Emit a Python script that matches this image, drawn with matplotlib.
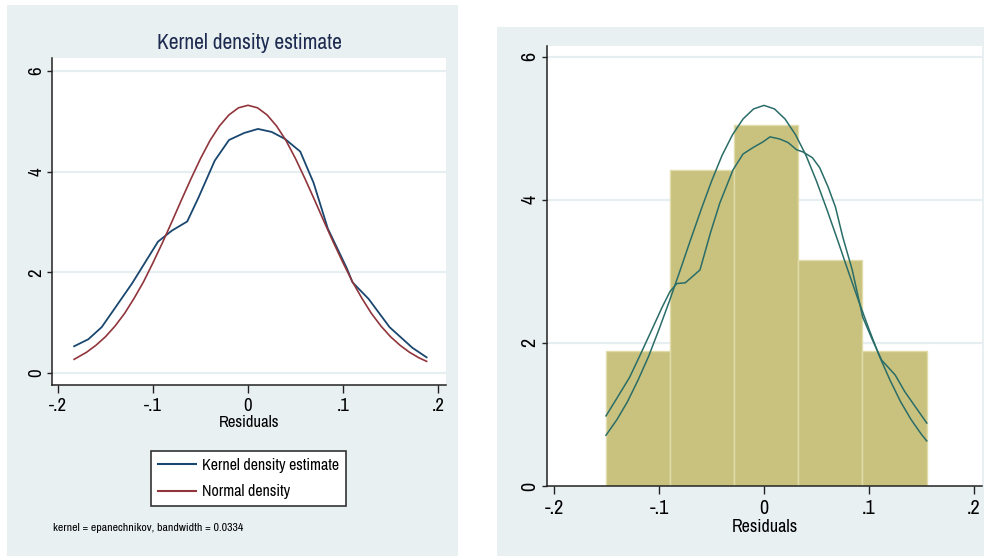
import matplotlib
matplotlib.use("Agg")
import matplotlib.pyplot as plt
from matplotlib.patches import Rectangle
from matplotlib.lines import Line2D
import numpy as np

# narrow face like Stata's default; Liberation Sans if it is missing
plt.rcParams['font.family'] = ['Archivo Narrow', 'Liberation Sans', 'DejaVu Sans']

# Colours
PANEL_BG = '#e9f0f2'
GRID = '#e6eef1'
NAVY = '#1a476f'
MAROON = '#90353b'
TEAL = '#2a6d68'
KHAKI = '#c9c27f'
KHAKI_EDGE = '#e2dcaa'
AXIS = '#222222'

# Left panel: kernel density estimate
kde_x = [-0.183, -0.168, -0.154, -0.140, -0.122, -0.0947, -0.080, -0.064,
         -0.052, -0.035, -0.020, -0.004, 0.0105, 0.025, 0.039, 0.055,
         0.069, 0.084, 0.104, 0.110, 0.127, 0.149, 0.173, 0.188]
kde_y = [0.53, 0.67, 0.91, 1.29, 1.78, 2.61, 2.83, 3.01,
         3.49, 4.22, 4.63, 4.77, 4.85, 4.79, 4.65, 4.40,
         3.78, 2.87, 2.08, 1.80, 1.47, 0.91, 0.50, 0.31]

# Left panel: normal density
norm_x = [-0.183, -0.17, -0.16, -0.15, -0.14, -0.13, -0.12, -0.11, -0.10,
          -0.09, -0.08, -0.07, -0.06, -0.05, -0.04, -0.03, -0.02, -0.01,
          0.0, 0.01, 0.02, 0.03, 0.04, 0.05, 0.06, 0.07, 0.08, 0.09,
          0.10, 0.11, 0.12, 0.13, 0.14, 0.15, 0.16, 0.17, 0.18, 0.188]
norm_y = [0.27, 0.41, 0.55, 0.72, 0.93, 1.18, 1.48, 1.81, 2.19,
          2.59, 3.01, 3.44, 3.86, 4.26, 4.62, 4.91, 5.13, 5.27,
          5.32, 5.27, 5.13, 4.91, 4.62, 4.26, 3.86, 3.44, 3.01, 2.59,
          2.19, 1.81, 1.48, 1.18, 0.93, 0.72, 0.55, 0.41, 0.30, 0.23]

# Right panel: histogram
bin_edges = [-0.1505, -0.0895, -0.0286, 0.0324, 0.0933, 0.1552]
bin_heights = [1.89, 4.41, 5.05, 3.16, 1.89]

# Right panel: kernel density
kde2_x = [-0.1505, -0.140, -0.128, -0.118, -0.107, -0.097, -0.0895, -0.083,
          -0.075, -0.061, -0.051, -0.042, -0.0295, -0.020, -0.0105, -0.001,
          0.0057, 0.015, 0.023, 0.031, 0.037, 0.046, 0.053, 0.061, 0.068,
          0.075, 0.084, 0.094, 0.103, 0.112, 0.125, 0.134, 0.144, 0.155]
kde2_y = [0.98, 1.23, 1.52, 1.83, 2.18, 2.50, 2.72, 2.83,
          2.84, 3.02, 3.54, 3.96, 4.42, 4.64, 4.73, 4.81,
          4.88, 4.85, 4.80, 4.70, 4.67, 4.59, 4.45, 4.18, 3.90,
          3.48, 3.02, 2.36, 2.05, 1.76, 1.55, 1.32, 1.11, 0.88]

# Right panel: normal density
norm2_x = [-0.1505, -0.14, -0.13, -0.12, -0.11, -0.10, -0.09, -0.08, -0.07,
           -0.06, -0.05, -0.04, -0.03, -0.02, -0.01, 0.0, 0.01, 0.02, 0.03,
           0.04, 0.05, 0.06, 0.07, 0.08, 0.09, 0.10, 0.11, 0.12, 0.13,
           0.14, 0.15, 0.155]
norm2_y = [0.71, 0.93, 1.18, 1.48, 1.81, 2.19, 2.59, 3.01, 3.44,
           3.86, 4.26, 4.62, 4.91, 5.13, 5.27, 5.32, 5.27, 5.13, 4.91,
           4.62, 4.26, 3.86, 3.44, 3.01, 2.59, 2.19, 1.81, 1.48, 1.18,
           0.93, 0.72, 0.63]

x_ticks = [-0.2, -0.1, 0.0, 0.1, 0.2]
x_ticklabels = ['-.2', '-.1', '0', '.1', '.2']
y_ticks = [0, 2, 4, 6]
y_ticklabels = ['0', '2', '4', '6']

W, H = 984, 556
fig = plt.figure(figsize=(W / 100, H / 100), dpi=100)
fig.patch.set_facecolor('white')


def px_rect(x0, y0, x1, y1):
    # pixel box (top-left origin) -> figure fraction [left, bottom, width, height]
    return [x0 / W, 1 - y1 / H, (x1 - x0) / W, (y1 - y0) / H]


# panel backgrounds
for x0, y0, x1, y1 in [(7, 5, 458, 556), (497, 27, 984, 556)]:
    l, b, w, h = px_rect(x0, y0, x1, y1)
    fig.patches.append(Rectangle((l, b), w, h, transform=fig.transFigure,
                                 facecolor=PANEL_BG, edgecolor='none', zorder=-5))


def style_axes(ax, fs, xpad):
    ax.set_zorder(2)
    for s in ['top', 'right']:
        ax.spines[s].set_visible(False)
    for s in ['left', 'bottom']:
        ax.spines[s].set_color(AXIS)
        ax.spines[s].set_linewidth(1.1)
    ax.set_xticks(x_ticks)
    ax.set_xticklabels(x_ticklabels)
    ax.set_yticks(y_ticks)
    ax.set_yticklabels(y_ticklabels, rotation=90, va='center')
    ax.tick_params(axis='both', direction='out', width=1.0,
                   color=AXIS, labelsize=fs, labelcolor='black')
    ax.tick_params(axis='x', length=5.4, pad=xpad)
    ax.tick_params(axis='y', length=3.6, pad=2)
    ax.set_facecolor('white')


# ---- left: kernel density estimate ----
ax1 = fig.add_axes(px_rect(52, 58, 446, 385))
ax1.set_xlim(-0.2063, 0.2084)
ax1.set_ylim(-0.24, 6.26)
for yv in y_ticks:
    ax1.axhline(yv, color=GRID, lw=1.6, zorder=1)
ax1.plot(kde_x, kde_y, color=NAVY, lw=1.3, zorder=3)
ax1.plot(norm_x, norm_y, color=MAROON, lw=1.2, zorder=3)
style_axes(ax1, 13.5, 4)
ax1.set_xlabel('Residuals', fontsize=12, labelpad=0.5)
ax1.set_title('Kernel density estimate', fontsize=15.5, color='#1e2b50', pad=6.5)

handles = [Line2D([], [], color=NAVY, lw=1.5), Line2D([], [], color=MAROON, lw=1.5)]
leg = fig.legend(handles, ['Kernel density estimate', 'Normal density'],
                 loc='center', bbox_to_anchor=(248.5 / W, 1 - 478.5 / H),
                 bbox_transform=fig.transFigure, fontsize=11.5, frameon=True,
                 fancybox=False, edgecolor='#333333', framealpha=1,
                 handlelength=2.4, handletextpad=0.4, labelspacing=0.75,
                 borderpad=0.42, borderaxespad=0)
leg.get_frame().set_linewidth(1.2)

fig.text(53 / W, 1 - 528 / H, 'kernel = epanechnikov, bandwidth = 0.0334',
         fontsize=8.5, va='center', ha='left')

# ---- right: histogram with densities ----
ax2 = fig.add_axes(px_rect(547, 46, 982, 486))
ax2.set_xlim(-0.2067, 0.2076)
ax2.set_ylim(0, 6.15)
for yv in y_ticks[1:]:
    ax2.axhline(yv, color=GRID, lw=1.6, zorder=1)
ax2.bar(bin_edges[:-1], bin_heights, width=np.diff(bin_edges), align='edge',
        color=KHAKI, edgecolor=KHAKI_EDGE, linewidth=1.0, zorder=2)
ax2.plot(kde2_x, kde2_y, color=TEAL, lw=1.1, zorder=3)
ax2.plot(norm2_x, norm2_y, color=TEAL, lw=1.1, zorder=3)
style_axes(ax2, 14.5, 4)
ax2.set_xlabel('Residuals', fontsize=13, labelpad=1)

fig.savefig('out.png', dpi=100)
